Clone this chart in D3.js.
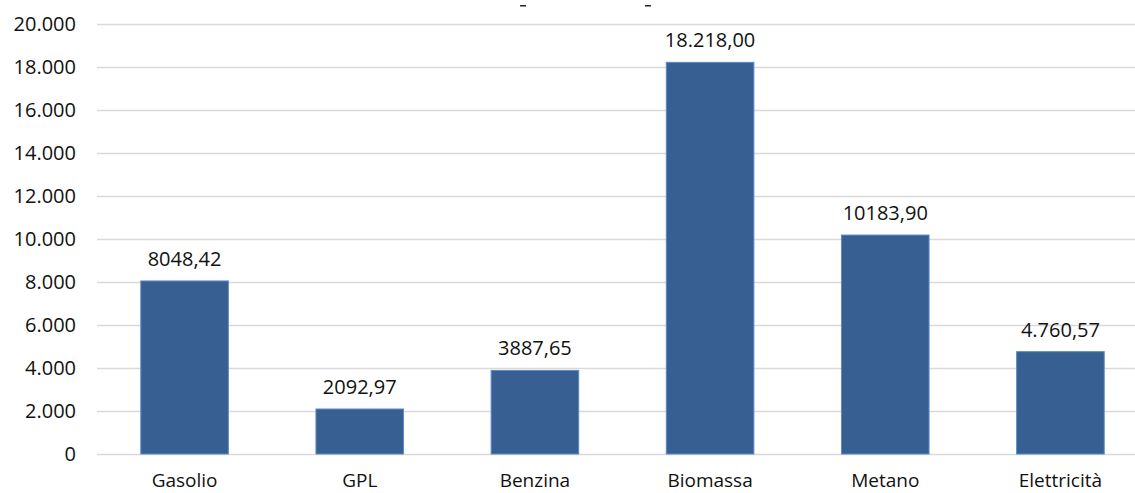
<!DOCTYPE html>
<html>
<head>
<meta charset="utf-8">
<script src="https://cdn.jsdelivr.net/npm/d3@7"></script>
<style>
  body { margin: 0; background: #fff; }
  svg { display: block; font-family: "Open Sans", sans-serif; }
</style>
</head>
<body>
<div id="chart"></div>
<script>
let categories = ["Gasolio", "GPL", "Benzina", "Biomassa", "Metano", "Elettricità"];
let values = [8048.42, 2092.97, 3887.65, 18218.00, 10183.90, 4760.57];
let valueLabels = ["8048,42", "2092,97", "3887,65", "18.218,00", "10183,90", "4.760,57"];
let yTicks = [0, 2000, 4000, 6000, 8000, 10000, 12000, 14000, 16000, 18000, 20000];

let width = 1135;
let height = 493;
let margins = { top: 24, right: -13, bottom: 39, left: 97 };

let svg = d3.select("#chart")
    .append("svg")
    .attr("width", width)
    .attr("height", height);

let g = svg.append("g")
    .attr("transform", "translate(" + margins.left + "," + margins.top + ")");

let innerW = width - margins.left - margins.right;
let innerH = height - margins.top - margins.bottom;

let x = d3.scaleBand()
    .domain(categories)
    .range([0, innerW])
    .paddingInner(0.5)
    .paddingOuter(0.25);

let y = d3.scaleLinear()
    .domain([0, 20000])
    .range([innerH, 0]);

let fmt = d3.formatLocale({ decimal: ",", thousands: ".", grouping: [3], currency: ["", ""] }).format(",");

// clipped title remnants at the top
svg.selectAll("rect.dash")
    .data([0.46, 0.57])
    .enter()
    .append("rect")
    .attr("class", "dash")
    .attr("x", d => width * d - 2)
    .attr("y", 5)
    .attr("width", 6)
    .attr("height", 1.5)
    .attr("fill", "#222");

// gridlines
g.append("g")
    .selectAll("line")
    .data(yTicks)
    .enter()
    .append("line")
    .attr("x1", 0)
    .attr("x2", innerW)
    .attr("y1", d => Math.round(y(d)) + 0.5)
    .attr("y2", d => Math.round(y(d)) + 0.5)
    .attr("stroke", "#d9d9d9")
    .attr("stroke-width", 1.5);

// y axis labels
let yAxis = g.append("g")
    .call(d3.axisLeft(y).tickValues(yTicks).tickFormat(fmt).tickSize(0).tickPadding(21));
yAxis.select(".domain").remove();
yAxis.selectAll("text")
    .style("font-family", "'Open Sans', sans-serif")
    .style("font-size", "20px")
    .attr("fill", "#111");

// bars
g.selectAll("rect.bar")
    .data(values)
    .enter()
    .append("rect")
    .attr("class", "bar")
    .attr("x", (d, i) => x(categories[i]))
    .attr("y", d => y(d))
    .attr("width", x.bandwidth())
    .attr("height", d => innerH - y(d))
    .attr("fill", "#375f91")
    .attr("stroke", "#5b8bc6")
    .attr("stroke-width", 1);

// value labels
g.selectAll("text.val")
    .data(values)
    .enter()
    .append("text")
    .attr("class", "val")
    .attr("x", (d, i) => x(categories[i]) + x.bandwidth() / 2)
    .attr("y", d => y(d) - 15)
    .attr("text-anchor", "middle")
    .style("font-size", "20px")
    .attr("fill", "#111")
    .text((d, i) => valueLabels[i]);

// category labels
g.selectAll("text.cat")
    .data(categories)
    .enter()
    .append("text")
    .attr("class", "cat")
    .attr("x", d => x(d) + x.bandwidth() / 2)
    .attr("y", innerH + 33)
    .attr("text-anchor", "middle")
    .style("font-size", "19px")
    .attr("fill", "#111")
    .text(d => d);
</script>
</body>
</html>
